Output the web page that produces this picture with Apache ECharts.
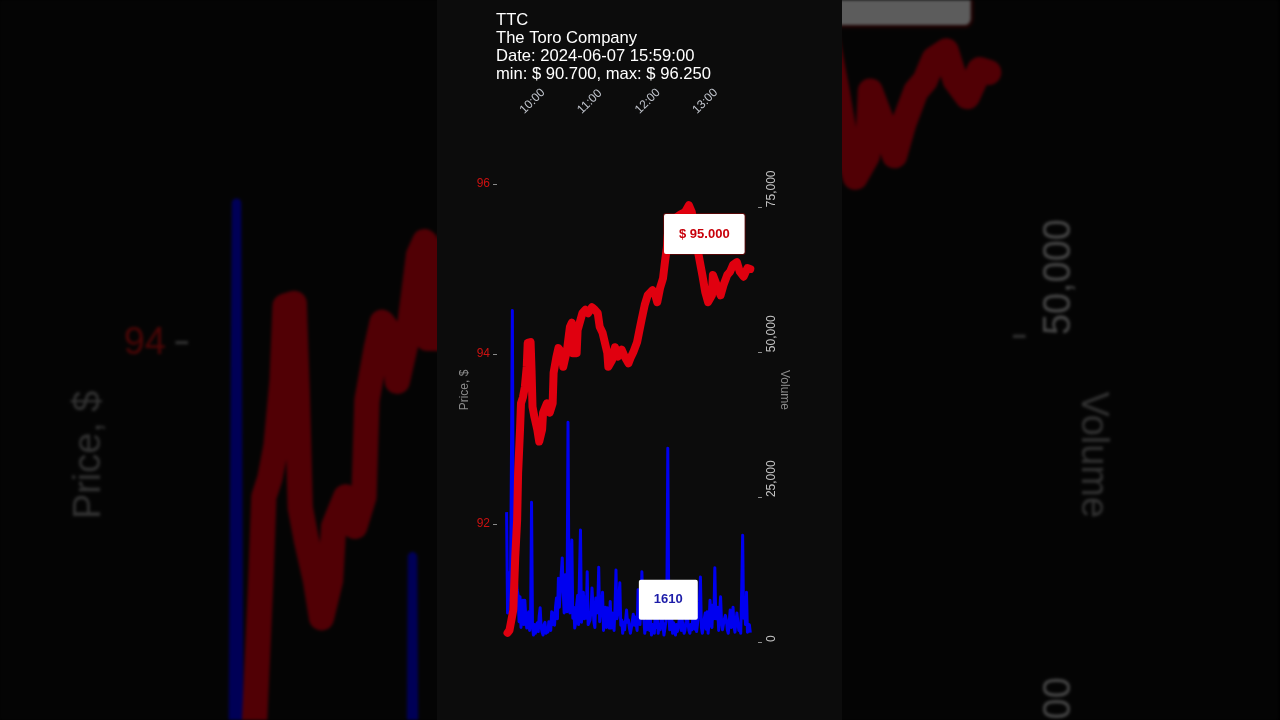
<!DOCTYPE html>
<html><head><meta charset="utf-8">
<script src="https://cdn.jsdelivr.net/npm/echarts@6/dist/echarts.min.js"></script>
<style>
html,body{margin:0;padding:0;background:#000;width:1280px;height:720px;overflow:hidden;}
#bgwrap{position:absolute;left:0;top:0;width:1280px;height:720px;overflow:hidden;filter:blur(1.5px) brightness(0.36);}
#bg{position:absolute;left:437px;top:0;width:405px;height:720px;transform-origin:203px 360px;transform:scale(3.1605);}
#main{position:absolute;left:437px;top:0;width:405px;height:720px;}
</style></head><body>
<div id="bgwrap"><div id="bg"></div></div>
<div id="main"></div>
<script>
const titleLines = ['TTC', 'The Toro Company', 'Date: 2024-06-07 15:59:00', 'min: $ 90.700, max: $ 96.250'];
const timeTickMinutes = [30, 90, 150, 210];            // minutes after 09:30
const timeTickLabels = ['10:00', '11:00', '12:00', '13:00'];
const priceTicks = [92, 94, 96];
const volumeTicks = [0, 25000, 50000, 75000];

const priceMinutes = [15,17,21,23,25,26,28,29,31,33,35,36,39,40,41,43,46,48,51,52,56,59,62,63,66,68,72,73,77,80,82,83,87,88,93,96,99,103,106,109,111,114,119,120,124,127,130,134,137,141,143,146,150,153,155,158,161,166,169,171,174,177,179,181,182,184,190,195,200,204,207,210,214,218,221,224,228,229,233,237,240,244,247,250,254,257,261,265,268];
const prices = [90.72,90.75,90.99,91.61,92.05,92.60,93.11,93.42,93.49,93.61,
93.85,94.13,94.14,93.81,93.38,93.26,93.11,92.97,93.11,93.31,
93.42,93.31,93.42,93.78,93.97,94.07,94.01,93.85,94.05,94.32,
94.37,94.01,94.01,94.28,94.48,94.52,94.48,94.55,94.52,94.48,
94.32,94.25,94.01,93.85,93.93,94.08,93.97,94.05,93.97,93.89,
93.95,94.02,94.14,94.31,94.42,94.58,94.69,94.75,94.69,94.61,
94.78,94.89,95.08,95.25,95.40,95.52,95.60,95.64,95.67,95.75,
95.67,95.46,95.17,94.93,94.73,94.61,94.69,94.93,94.81,94.69,
94.81,94.93,94.97,95.05,95.08,94.97,94.91,95.01,95.00];

const volumeStartMinute = 14;   // one value per minute from here
const volumes = [
22400,5000,7200,12000,9000,30000,57200,17100,9500,7200,
11000,9000,8100,3500,7800,2500,6400,7200,3000,7200,
4300,2400,4300,5200,2000,4000,24100,2600,1200,3000,
1500,2900,3300,1800,4500,5900,2500,1700,1200,3000,
3400,1500,2200,1700,3500,3800,2000,5200,3000,5000,
2900,6000,7600,4000,11000,6000,9000,12000,14500,8600,
5000,11600,9500,5200,37900,9000,5000,13300,17600,4100,
6000,2400,3300,6400,8000,3000,12000,19300,3400,5000,
8600,4000,7800,4100,12100,3000,2900,3800,5500,9300,
9000,3400,2500,7600,5000,6000,12900,3500,5200,5000,
8600,2000,4100,6000,2500,5900,3800,2400,7000,2400,
5000,5200,2000,6000,12400,4000,5000,5200,10200,2900,
3800,1500,3400,2100,2000,5500,3400,3800,2400,1500,
2400,2100,4800,2900,4300,4600,2000,9000,5900,3000,
6000,12100,6000,4300,1500,3500,2100,4000,5000,2000,
3800,1200,3000,2600,1500,5500,2500,4300,1500,3000,
2100,3800,4500,2600,1200,1500,3500,6000,33400,5000,
2100,3000,4800,1500,3300,2400,1200,3000,1800,2600,
4000,5000,2000,3800,2500,1500,2100,3600,5500,3300,
2000,1500,3000,2100,4000,4500,2200,3800,1800,1800,
4500,7000,11200,2500,1500,2600,4000,5000,2200,5200,
1500,3400,7200,3000,2500,6400,4000,12800,4000,5200,
6000,2000,4800,7800,3500,2100,2400,4000,4600,3800,
2100,1500,3400,5500,2500,4200,6000,2600,1700,3500,
5000,5200,2000,2400,1500,9000,18400,4100,6000,3000,
8600,1700,2100,3000,1610];

const FONT = '"Liberation Sans", Arial, sans-serif';

function buildOption() {
  const n = Math.min(priceMinutes.length, prices.length);
  const priceData = [];
  for (let i = 0; i < n; i++) priceData.push([priceMinutes[i], prices[i]]);
  const volumeData = volumes.map((v, i) => [volumeStartMinute + i, v]);
  const lastP = priceData[priceData.length - 1];
  const lastV = volumeData[volumeData.length - 1];
  return {
    backgroundColor: '#0c0c0c',
    animation: false,
    title: {
      text: titleLines.join('\n'), left: 59, top: 11, padding: 0,
      textStyle: { color: '#ffffff', fontSize: 16.6, fontWeight: 'normal', lineHeight: 18, fontFamily: FONT }
    },
    grid: { left: 60, right: 84, top: 184, bottom: 78 },
    xAxis: {
      type: 'value', position: 'top', min: 4, max: 276, offset: 68,
      axisLine: { show: false }, axisTick: { show: false }, splitLine: { show: false },
      axisLabel: {
        customValues: timeTickMinutes, rotate: 45, margin: 4, color: '#c0c4cc', fontSize: 12, fontFamily: FONT,
        formatter: v => timeTickLabels[timeTickMinutes.indexOf(v)] || ''
      }
    },
    yAxis: [
      {
        type: 'value', position: 'left', min: 90.612, max: 96,
        axisLine: { show: false }, splitLine: { show: false },
        axisTick: { show: true, length: 4, customValues: priceTicks, lineStyle: { color: '#8a8a8a' } },
        axisLabel: { customValues: priceTicks, color: '#cc1111', fontSize: 12, margin: 7, fontFamily: FONT }
      },
      {
        type: 'value', position: 'right', min: 0, max: 79000,
        axisLine: { show: false }, splitLine: { show: false },
        axisTick: { show: true, length: 4, customValues: volumeTicks, lineStyle: { color: '#8a8a8a' } },
        axisLabel: {
          customValues: volumeTicks, rotate: 90, align: 'left', verticalAlign: 'top', margin: 8,
          color: '#c4c4c4', fontSize: 12, fontFamily: FONT,
          formatter: v => Number(v).toLocaleString('en-US')
        }
      }
    ],
    graphic: [
      { type: 'text', x: 28, y: 390, rotation: Math.PI / 2,
        style: { text: 'Price, $', align: 'center', verticalAlign: 'middle', fill: '#8c8c8c', fontSize: 12, fontFamily: FONT } },
      { type: 'text', x: 347, y: 390, rotation: -Math.PI / 2,
        style: { text: 'Volume', align: 'center', verticalAlign: 'middle', fill: '#8c8c8c', fontSize: 12, fontFamily: FONT } }
    ],
    series: [
      {
        name: 'Volume', type: 'line', yAxisIndex: 1, data: volumeData, symbol: 'none', showSymbol: false, z: 2,
        lineStyle: { color: '#0000f0', width: 3, join: 'round' },
        markPoint: {
          symbol: 'circle', symbolSize: 1, itemStyle: { color: 'rgba(0,0,0,0)' },
          label: {
            show: true, position: 'inside', offset: [-82, -33], formatter: String(lastV[1]),
            backgroundColor: '#ffffff', padding: [14, 15, 13, 15], borderRadius: 2,
            color: '#1c1ca8', fontWeight: 'bold', fontSize: 13, fontFamily: FONT
          },
          data: [{ coord: lastV }]
        }
      },
      {
        name: 'Price', type: 'line', yAxisIndex: 0, data: priceData, symbol: 'none', showSymbol: false, z: 3,
        lineStyle: { color: '#e0000f', width: 8, cap: 'round', join: 'round' },
        markPoint: {
          symbol: 'circle', symbolSize: 1, itemStyle: { color: 'rgba(0,0,0,0)' },
          label: {
            show: true, position: 'inside', offset: [-46, -35], formatter: '$ ' + lastP[1].toFixed(3),
            backgroundColor: '#ffffff', padding: [14, 15, 13, 15], borderRadius: 2,
            borderColor: 'rgba(220,0,0,0.35)', borderWidth: 1,
            color: '#c8000a', fontWeight: 'bold', fontSize: 13, fontFamily: FONT
          },
          data: [{ coord: lastP }]
        }
      }
    ]
  };
}

const bgChart = echarts.init(document.getElementById('bg'), null, { renderer: 'svg' });
bgChart.setOption(buildOption());
const chart = echarts.init(document.getElementById('main'));
chart.setOption(buildOption());
</script>
</body></html>
